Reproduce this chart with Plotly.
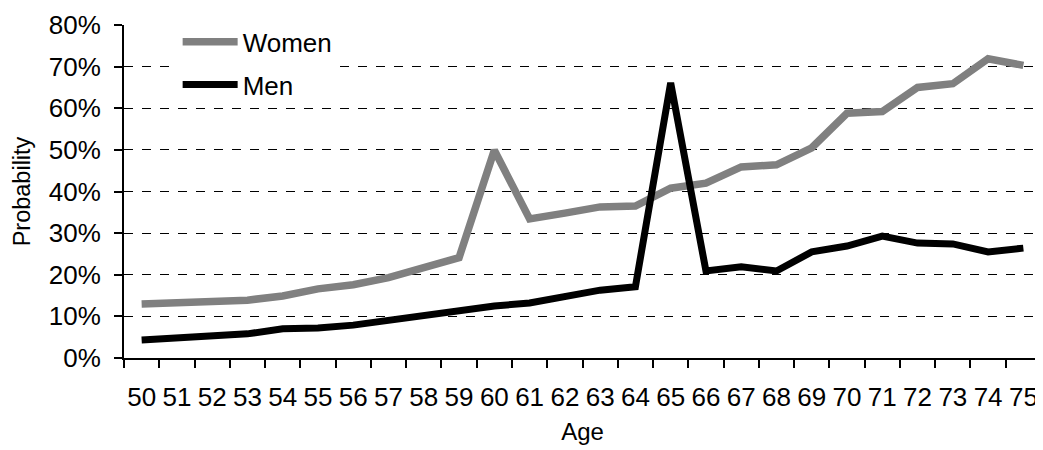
import plotly.graph_objects as go

ages = [str(a) for a in range(50, 76)]

women = [13.0, 13.2, 13.5, 13.9, 14.9, 16.6, 17.6, 19.3, 21.7, 24.1,
         49.9, 33.4, 34.8, 36.3, 36.5, 40.8, 42.0, 45.9, 46.4, 50.5,
         58.8, 59.2, 65.0, 65.9, 71.9, 70.3]
men = [4.3, 4.8, 5.5, 5.8, 7.0, 7.2, 7.9, 9.1, 10.3, 11.5,
       12.5, 13.2, 14.7, 16.3, 17.1, 66.1, 20.9, 21.9, 20.9, 25.5,
       26.9, 29.3, 27.6, 27.4, 25.5, 26.4]

FONT = "Liberation Sans, Arial, sans-serif"

fig = go.Figure()
fig.add_trace(go.Scatter(
    x=ages, y=[v / 100 for v in women], name="Women", mode="lines",
    line=dict(color="#808080", width=7.5), legendgroup="w",
))
fig.add_trace(go.Scatter(
    x=ages, y=[v / 100 for v in men], name="Men", mode="lines",
    line=dict(color="#000000", width=7), legendgroup="m",
))

# page body keeps an 8px margin, so the figure is made 16px smaller
fig.update_layout(
    width=1035, height=442,
    margin=dict(l=116, r=2, t=17, b=92, autoexpand=False),
    paper_bgcolor="white", plot_bgcolor="white",
    font=dict(family=FONT, size=26, color="black"),
    showlegend=True,
    legend=dict(
        x=0.0585, y=1.02, xanchor="left", yanchor="top",
        bgcolor="white", borderwidth=0,
        font=dict(size=26), tracegroupgap=6,
        itemwidth=55,
    ),
    xaxis=dict(
        type="category", range=[-0.5, 25.5], automargin=False,
        showline=True, linecolor="black", linewidth=2,
        ticks="outside", ticklen=8, tickwidth=2, tickcolor="black",
        tickson="boundaries", showgrid=False, tickangle=0,
        tickfont=dict(size=26),
        title=dict(text="Age", standoff=12, font=dict(size=24)),
        ticklabelstandoff=15,
    ),
    yaxis=dict(
        range=[0, 0.8], dtick=0.1, tickformat=".0%", automargin=False,
        showline=True, linecolor="black", linewidth=2,
        ticks="outside", ticklen=8, tickwidth=2, tickcolor="black",
        showgrid=True, gridcolor="black", gridwidth=1, griddash="dash",
        zeroline=False, tickfont=dict(size=26),
        title=dict(text="Probability", standoff=12, font=dict(size=23.5)),
        ticklabelstandoff=8,
    ),
)

fig.write_html("out.html")
